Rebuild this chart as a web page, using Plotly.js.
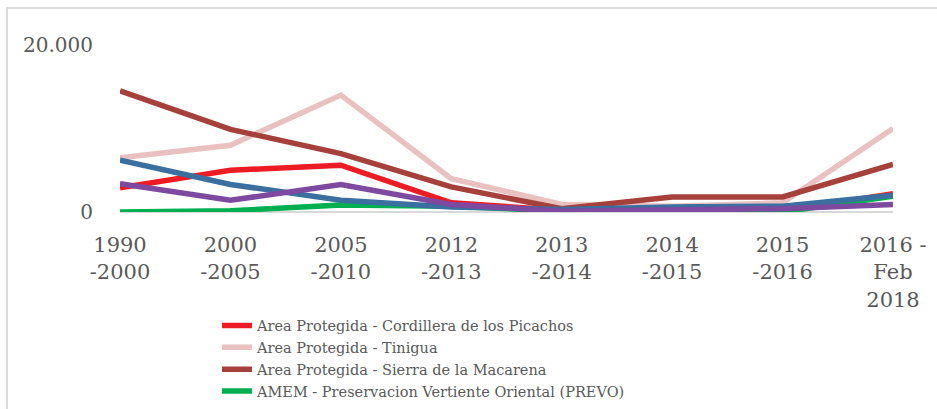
<!DOCTYPE html>
<html>
<head>
<meta charset="utf-8">
<script src="https://cdn.plot.ly/plotly-3.0.1.min.js"></script>
<style>
html,body{margin:0;padding:0;overflow:hidden;background:#fff;}
#chart{width:937px;height:409px;}
#frame{position:absolute;left:6px;top:7px;width:2000px;height:2000px;border:2px solid #d9d9d9;pointer-events:none;}
</style>
</head>
<body>
<div id="chart"></div>
<div id="frame"></div>
<script>
var categories = ["1990<br>-2000","2000<br>-2005","2005<br>-2010","2012<br>-2013","2013<br>-2014","2014<br>-2015","2015<br>-2016","2016 -<br>Feb<br>2018"];
var seriesNames = [
  "Area Protegida - Cordillera de los Picachos",
  "Area Protegida - Tinigua",
  "Area Protegida - Sierra de la Macarena",
  "AMEM - Preservacion Vertiente Oriental (PREVO)",
  "AMEM - Recuperacion para la Produccion Norte",
  "AMEM - Recuperacion para la Produccion Sur"
];
var picachos  = [2900, 5000, 5600, 1100, 200, 100, 100, 2200];
var tinigua   = [6500, 8000, 14000, 4000, 900, 700, 1100, 10000];
var macarena  = [14500, 9900, 7000, 3000, 400, 1800, 1800, 5700];
var prevo     = [0, 150, 850, 700, 100, 0, 0, 1900];
var rpNorte   = [6200, 3300, 1400, 600, 300, 600, 700, 2000];
var rpSur     = [3400, 1400, 3300, 900, 100, 300, 400, 900];
var colors = ["#ED1C24", "#E8C1C0", "#A5403A", "#00B050", "#3A6F9F", "#7E4A9F"];
var seriesValues = [picachos, tinigua, macarena, prevo, rpNorte, rpSur];
var inVisibleLegend = [true, true, true, true, false, false];

var traces = seriesValues.map(function(v, i){
  return {
    type: "scatter", mode: "lines", x: categories, y: v, name: seriesNames[i],
    showlegend: inVisibleLegend[i],
    line: {color: colors[i], width: 5.5}
  };
});

var layout = {
  width: 937, height: 409,
  margin: {l: 120, r: 44, t: 45, b: 197, autoexpand: false},
  paper_bgcolor: "rgba(0,0,0,0)", plot_bgcolor: "#fff",
  separators: ",.",
  font: {family: "DejaVu Serif", color: "#595959", size: 20},
  showlegend: true,
  legend: {
    xref: "container", yref: "container",
    x: 217/937, y: 1 - 309.5/409, xanchor: "left", yanchor: "top",
    font: {family: "DejaVu Serif", size: 14.5, color: "#595959"},
    bgcolor: "rgba(0,0,0,0)", maxheight: 400, tracegroupgap: 0
  },
  xaxis: {
    type: "category", showgrid: false, zeroline: false, showline: false,
    ticks: "", tickfont: {size: 21, color: "#595959"}, ticklabelstandoff: 18,
    tickangle: 0, fixedrange: true
  },
  yaxis: {
    range: [0, 20000], tickvals: [0, 20000], tickformat: ",d",
    showgrid: true, gridcolor: "#d9d9d9", gridwidth: 2,
    zeroline: true, zerolinecolor: "#d9d9d9", zerolinewidth: 2,
    showline: false, ticks: "", ticklabelstandoff: 26,
    tickfont: {size: 20, color: "#595959"}, fixedrange: true
  }
};
Plotly.newPlot("chart", traces, layout, {displayModeBar: false, staticPlot: true});
</script>
</body>
</html>
